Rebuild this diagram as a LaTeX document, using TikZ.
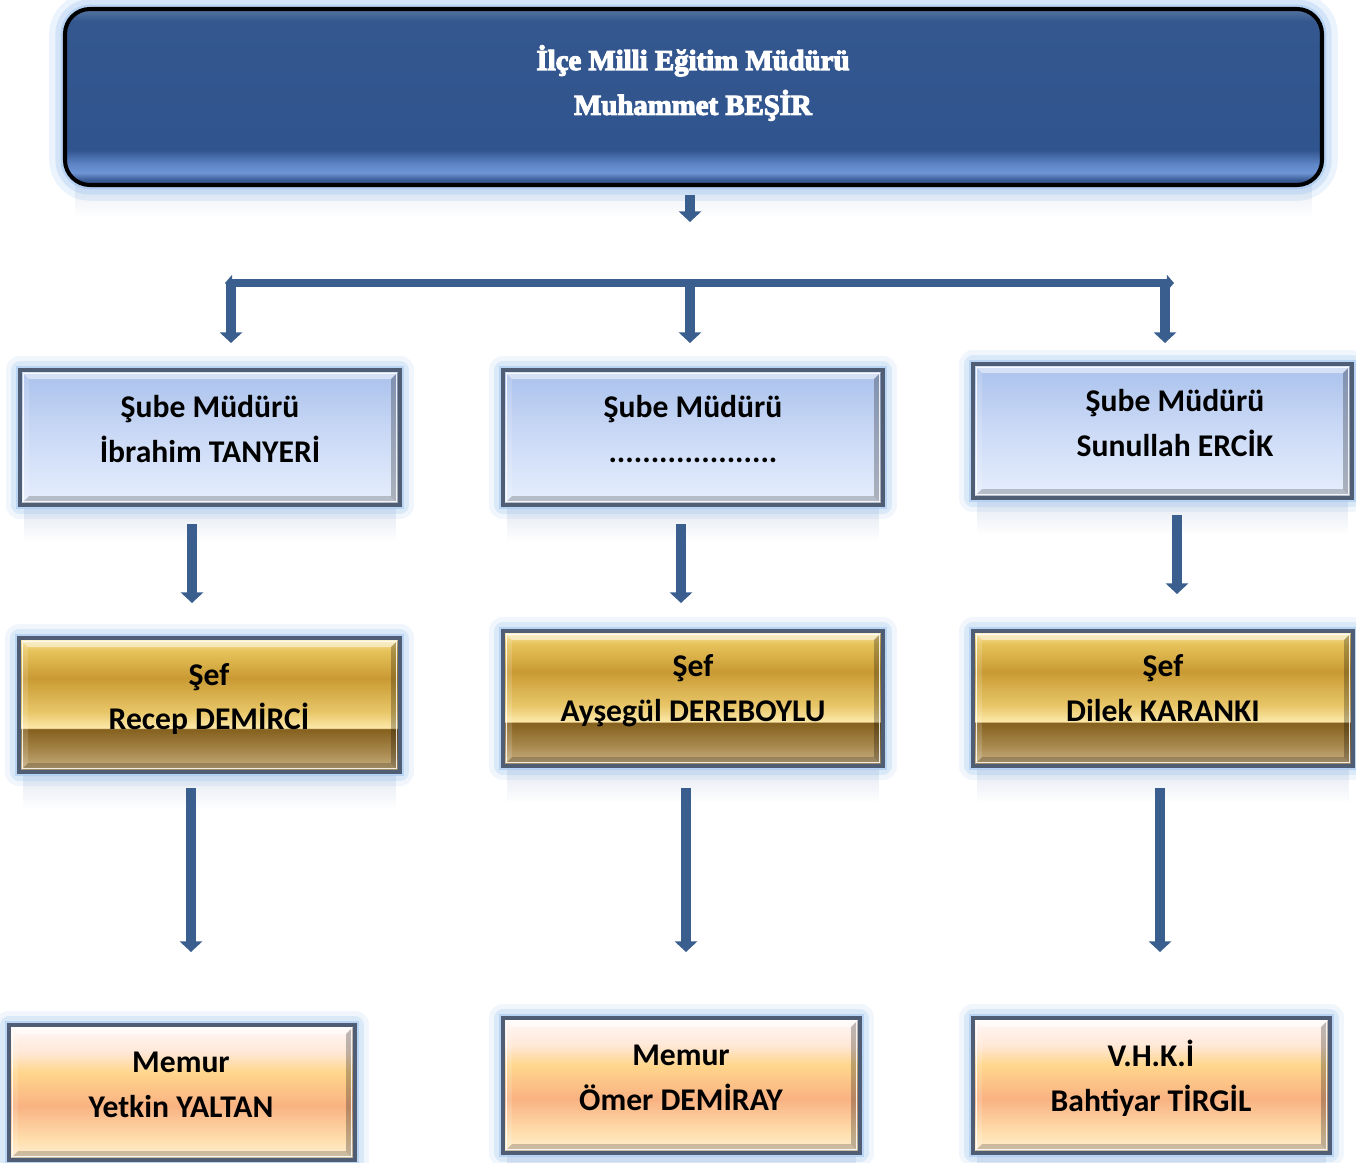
\documentclass[tikz,border=0pt]{standalone}
\usepackage{fontspec}
\newfontfamily\calfont{Carlito}
\newfontfamily\titlefont{Liberation Serif}[FakeBold=4]
\usetikzlibrary{arrows.meta,fadings,fit}
\definecolor{arrcol}{HTML}{3A5E8E}
\definecolor{glowcol}{HTML}{9CC3F0}
\definecolor{bordercol}{HTML}{4F5E74}
\definecolor{reflcol}{HTML}{E4E9F2}
% blue
\definecolor{blA}{HTML}{E6EFFD}
\definecolor{blB}{HTML}{CCDAF6}
\definecolor{blC}{HTML}{A9C1EC}
% gold
\definecolor{goA}{HTML}{F8E39A}
\definecolor{goB}{HTML}{E6C25A}
\definecolor{goC}{HTML}{C99A33}
\definecolor{goD}{HTML}{E8C668}
\definecolor{goE}{HTML}{FCE8A8}
\definecolor{goF}{HTML}{85601E}
\definecolor{goG}{HTML}{A8894E}
\definecolor{goH}{HTML}{CDB589}
% peach
\definecolor{peA}{HTML}{FFF8F8}
\definecolor{peB}{HTML}{FFE8D8}
\definecolor{peC}{HTML}{FFD68C}
\definecolor{peD}{HTML}{F9B282}
\definecolor{peE}{HTML}{FFDFAE}
\definecolor{peF}{HTML}{FFEFD5}
% top
\definecolor{tpA}{HTML}{56759F}
\definecolor{tpB}{HTML}{34578F}
\definecolor{tpC}{HTML}{30548E}
\definecolor{tpD}{HTML}{5E85C6}
\definecolor{tpE}{HTML}{6E94D4}
\definecolor{tpF}{HTML}{3C5E98}
\definecolor{tpG}{HTML}{2A4A80}
\pgfdeclareverticalshading{blueshade}{100bp}{color(0bp)=(blA); color(25bp)=(blA); color(50bp)=(blB); color(75bp)=(blC); color(100bp)=(blC)}
\pgfdeclareverticalshading{goldshade}{100bp}{color(0bp)=(goH); color(25bp)=(goH); color(32.5bp)=(goG); color(41bp)=(goF); color(41.5bp)=(goE); color(47.5bp)=(goD); color(60bp)=(goC); color(70bp)=(goB); color(75bp)=(goA); color(100bp)=(goA)}
\pgfdeclareverticalshading{peachshade}{100bp}{color(0bp)=(peF); color(25bp)=(peF); color(32.5bp)=(peE); color(45bp)=(peD); color(57.5bp)=(peC); color(65bp)=(peB); color(75bp)=(peA); color(100bp)=(peA)}
\pgfdeclareverticalshading{topshade}{100bp}{color(0bp)=(tpG); color(25bp)=(tpG); color(26.5bp)=(tpF); color(28.5bp)=(tpE); color(31bp)=(tpD); color(35bp)=(tpC); color(71.5bp)=(tpB); color(75bp)=(tpA); color(100bp)=(tpA)}
\newcommand\bevbox[6]{%
  \fill[reflcol, path fading=south] (#2+4,#5+3) rectangle (#4-4,#5+36);
  \draw[glowcol, line width=16pt, opacity=.15, line join=round] (#2,#3) rectangle (#4,#5);
  \draw[glowcol, line width=10pt, opacity=.25, line join=round] (#2,#3) rectangle (#4,#5);
  \draw[glowcol, line width=5pt, opacity=.5] (#2,#3) rectangle (#4,#5);
  \node[fit={(#2,#3)(#4,#5)}, inner sep=0pt, shading=#6] (#1) {};
  \fill[white, opacity=.5] (#2,#3) -- (#4,#3) -- (#4-9,#3+9) -- (#2+9,#3+9) -- cycle;
  \fill[white, opacity=.15] (#2,#3) -- (#2+9,#3+9) -- (#2+9,#5-9) -- (#2,#5) -- cycle;
  \fill[black, opacity=.25] (#4,#3) -- (#4-9,#3+9) -- (#4-9,#5-9) -- (#4,#5) -- cycle;
  \fill[black, opacity=.2] (#2,#5) -- (#4,#5) -- (#4-9,#5-9) -- (#2+9,#5-9) -- cycle;
  \draw[white, opacity=.85, line width=1pt] (#2+3.5,#3+3.5) rectangle (#4-3.5,#5-3.5);
  \draw[bordercol, line width=2.3pt] (#1.north west) rectangle (#1.south east);
}
\tikzset{
  btxt/.style={font=\calfont\bfseries\fontsize{18}{25.5}\selectfont, align=center, inner sep=0pt, text=black},
  ttxt/.style={font=\titlefont\bfseries\fontsize{16.4}{25.5}\selectfont, align=center, inner sep=0pt, text=white},
  blockarr/.style={draw=arrcol, line width=5.7pt, -{Triangle[width=12.5pt,length=6pt]}},
  bararr/.style={draw=arrcol, line width=5pt, {Triangle[width=9pt,length=4pt]}-{Triangle[width=9pt,length=4pt]}}
}
\begin{document}
\begin{tikzpicture}[x=0.02cm, y=-0.02cm]
\useasboundingbox (0,0) rectangle (1356,1163);
\fill[white] (0,0) rectangle (1356,1163);
% top box
\fill[reflcol, path fading=south] (75,180) rectangle (1312,216);
\draw[glowcol, line width=18pt, opacity=.2, rounded corners=0.5cm] (65,9) rectangle (1322,185);
\draw[glowcol, line width=11pt, opacity=.3, rounded corners=0.5cm] (65,9) rectangle (1322,185);
\draw[glowcol, line width=5pt, opacity=.5, rounded corners=0.5cm] (65,9) rectangle (1322,185);
\node[fit={(65,9)(1322,185)}, inner sep=0pt, rounded corners=0.5cm, shading=topshade, draw=black, line width=2.3pt] (top) {};
\node[ttxt] (toptxt) at (693,83) {İlçe Milli Eğitim Müdürü\\Muhammet BEŞİR};
% boxes
\bevbox{b1}{20}{370}{400}{505}{blueshade}
\bevbox{b2}{503}{370}{883}{505}{blueshade}
\bevbox{b3}{973}{364}{1352}{498}{blueshade}
\bevbox{g1}{19}{638}{400}{772}{goldshade}
\bevbox{g2}{503}{631}{883}{766}{goldshade}
\bevbox{g3}{973}{631}{1353}{766}{goldshade}
\bevbox{p1}{9}{1025}{355}{1160}{peachshade}
\bevbox{p2}{503}{1018}{860}{1153}{peachshade}
\bevbox{p3}{973}{1018}{1330}{1153}{peachshade}
% texts
\node[btxt] (b1t) at (210,429) {Şube Müdürü\\İbrahim TANYERİ};
\node[btxt] (b2t) at (693,429) {Şube Müdürü\\....................};
\node[btxt] (b3t) at (1175,423) {Şube Müdürü\\Sunullah ERCİK};
\node[btxt] (g1t) at (209,699) {Şef\\Recep DEMİRCİ};
\node[btxt] (g2t) at (693,691) {Şef\\Ayşegül DEREBOYLU};
\node[btxt] (g3t) at (1163,688) {Şef\\Dilek KARANKI};
\node[btxt] (p1t) at (181,1085) {Memur\\Yetkin YALTAN};
\node[btxt] (p2t) at (681,1078) {Memur\\Ömer DEMİRAY};
\node[btxt] (p3t) at (1151,1078) {V.H.K.İ\\Bahtiyar TİRGİL};
% connector coordinates
\coordinate (a0s) at (690,195); \coordinate (a0e) at (690,222);
\coordinate (barL) at (225,283); \coordinate (barR) at (1174,283);
\coordinate (v1s) at (231,283); \coordinate (v1e) at (231,343);
\coordinate (v2s) at (690,283); \coordinate (v2e) at (690,343);
\coordinate (v3s) at (1165,283); \coordinate (v3e) at (1165,343);
\coordinate (c1s) at (192,524); \coordinate (c1e) at (192,603);
\coordinate (c2s) at (681,524); \coordinate (c2e) at (681,603);
\coordinate (c3s) at (1177,515); \coordinate (c3e) at (1177,594);
\coordinate (d1s) at (191,788); \coordinate (d1e) at (191,952);
\coordinate (d2s) at (686,788); \coordinate (d2e) at (686,952);
\coordinate (d3s) at (1160,788); \coordinate (d3e) at (1160,952);
% connectors
\draw[blockarr] (a0s) -- (a0e);
\draw[bararr] (barL) -- (barR);
\draw[blockarr] (v1s) -- (v1e);
\draw[blockarr] (v2s) -- (v2e);
\draw[blockarr] (v3s) -- (v3e);
\draw[blockarr] (c1s) -- (c1e);
\draw[blockarr] (c2s) -- (c2e);
\draw[blockarr] (c3s) -- (c3e);
\draw[blockarr] (d1s) -- (d1e);
\draw[blockarr] (d2s) -- (d2e);
\draw[blockarr] (d3s) -- (d3e);
\end{tikzpicture}
\end{document}
